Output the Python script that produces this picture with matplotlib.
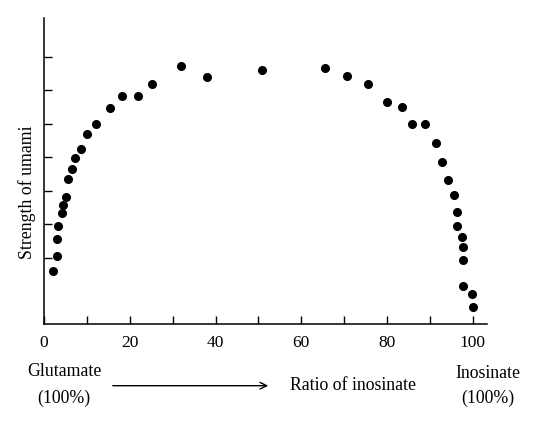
import numpy as np
import matplotlib.pyplot as plt
from matplotlib.patches import FancyArrowPatch

plt.rcParams['font.family'] = ['Liberation Serif', 'DejaVu Serif']

# ratio of inosinate (%) and strength of umami
ratio = [2.2, 3.0, 3.0, 3.3, 4.1, 4.5, 5.1, 5.7, 6.5, 7.3,
         8.6, 10.1, 12.2, 15.4, 18.1, 22.0, 25.3, 31.9, 38.1, 50.9,
         65.6, 70.7, 75.5, 80.0, 83.4, 85.7, 88.9, 91.4, 92.7, 94.3,
         95.5, 96.2, 96.4, 97.4, 97.7, 97.7, 97.7, 99.8, 100.0]
strength = [1.61, 2.06, 2.58, 2.96, 3.33, 3.57, 3.82, 4.37, 4.64, 4.98,
            5.26, 5.70, 5.99, 6.46, 6.84, 6.84, 7.19, 7.74, 7.40, 7.62,
            7.68, 7.44, 7.19, 6.64, 6.51, 6.01, 5.99, 5.42, 4.87, 4.33,
            3.88, 3.37, 2.96, 2.63, 2.32, 1.95, 1.16, 0.93, 0.55]

x_major = [0, 20, 40, 60, 80, 100]
x_minor = [10, 30, 50, 70, 90]
y_ticks = [2, 3, 4, 5, 6, 7, 8]

W, H = 540, 428
fig = plt.figure(figsize=(W / 100, H / 100), dpi=100)
ax = fig.add_axes([44 / W, 1 - 324 / H, 443 / W, 306 / H])

ax.plot(ratio, strength, 'o', color='black', ms=5.5)

ax.set_xlim(0, 103.3)
ax.set_ylim(0.03, 9.16)
ax.spines['top'].set_visible(False)
ax.spines['right'].set_visible(False)
for s in ['left', 'bottom']:
    ax.spines[s].set_linewidth(1.1)

ax.set_xticks(x_major)
ax.set_xticks(x_minor, minor=True)
ax.set_yticks(y_ticks)
ax.set_yticklabels([])
ax.tick_params(axis='both', which='both', direction='in', length=6, width=1.0)
ax.tick_params(axis='x', labelsize=12.5, pad=8)

# text placed in figure pixels
def fx(px):
    return px / W

def fy(py):
    return 1 - py / H

fs = 12.8
fig.text(fx(27), fy(192.5), 'Strength of umami', rotation=90,
         ha='center', va='center', fontsize=fs)
fig.text(fx(64), fy(371.7), 'Glutamate', ha='center', va='center', fontsize=fs)
fig.text(fx(64), fy(398), '(100%)', ha='center', va='center', fontsize=fs)
fig.text(fx(352.5), fy(385), 'Ratio of inosinate', ha='center', va='center', fontsize=fs)
fig.text(fx(488), fy(373), 'Inosinate', ha='center', va='center', fontsize=fs)
fig.text(fx(487.7), fy(398), '(100%)', ha='center', va='center', fontsize=fs)
fig.patches.append(FancyArrowPatch(
    (fx(110), fy(385.7)), (fx(271), fy(385.7)), transform=fig.transFigure,
    arrowstyle='->', mutation_scale=12, lw=1.0, color='black'))

fig.savefig('out.png', dpi=100)
